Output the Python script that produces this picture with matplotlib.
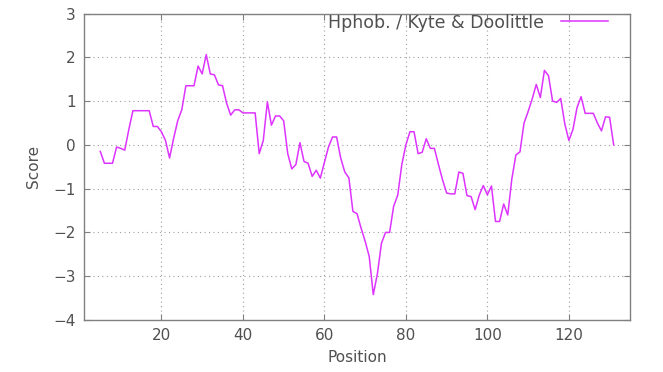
import matplotlib
matplotlib.use('Agg')
import matplotlib.pyplot as plt

# Data
positions = list(range(5, 132))
scores = [
    -0.15, -0.42, -0.42, -0.42, -0.05, -0.08, -0.12, 0.35, 0.78, 0.78,   # 5-14
    0.78, 0.78, 0.78, 0.42, 0.42, 0.30, 0.10, -0.30, 0.15, 0.55,        # 15-24
    0.80, 1.35, 1.35, 1.35, 1.80, 1.62, 2.06, 1.62, 1.60, 1.37,         # 25-34
    1.35, 0.95, 0.68, 0.80, 0.80, 0.73, 0.73, 0.73, 0.73, -0.20,        # 35-44
    0.10, 0.98, 0.45, 0.66, 0.66, 0.55, -0.20, -0.55, -0.45, 0.05,      # 45-54
    -0.38, -0.42, -0.72, -0.58, -0.76, -0.40, -0.05, 0.18, 0.18, -0.30,  # 55-64
    -0.62, -0.75, -1.52, -1.57, -1.90, -2.20, -2.55, -3.42, -2.95, -2.25,  # 65-74
    -2.00, -2.00, -1.40, -1.15, -0.45, 0.00, 0.30, 0.30, -0.20, -0.17,  # 75-84
    0.14, -0.08, -0.08, -0.45, -0.80, -1.10, -1.12, -1.12, -0.62, -0.65,  # 85-94
    -1.16, -1.18, -1.48, -1.15, -0.93, -1.14, -0.94, -1.75, -1.75, -1.35,  # 95-104
    -1.60, -0.78, -0.23, -0.16, 0.50, 0.76, 1.05, 1.38, 1.08, 1.70,     # 105-114
    1.58, 1.00, 0.97, 1.06, 0.48, 0.10, 0.35, 0.85, 1.10, 0.72,         # 115-124
    0.72, 0.72, 0.50, 0.32, 0.64, 0.63, 0.00,                           # 125-131
]
x_ticks = [20, 40, 60, 80, 100, 120]
y_ticks = [-4, -3, -2, -1, 0, 1, 2, 3]

text_color = '#505050'
frame_color = '#808080'

fig = plt.figure(figsize=(6.63, 3.72), dpi=100)
ax = fig.add_axes([0.1267, 0.1398, 0.8235, 0.8239])

ax.plot(positions, scores, color='#dd33ff', linewidth=1.1,
        label='Hphob. / Kyte & Doolittle')

ax.set_xlim(1, 135)
ax.set_ylim(-4, 3)
ax.set_xticks(x_ticks)
ax.set_yticks(y_ticks)

ax.grid(True, color='#a0a0a0', linestyle=(0, (1, 3)), linewidth=0.8)
for side in ax.spines.values():
    side.set_color(frame_color)
    side.set_linewidth(1.0)

ax.tick_params(direction='in', length=4, width=0.8, color=frame_color,
               top=True, right=True, labelsize=11, labelcolor=text_color, pad=6)

ax.set_xlabel('Position', fontsize=11, color=text_color, labelpad=5)
ax.set_ylabel('Score', fontsize=11, color=text_color, labelpad=9)

ax.legend(loc='upper right', bbox_to_anchor=(0.96, 1.0), frameon=False,
          markerfirst=False, handlelength=2.7, handletextpad=1.0,
          fontsize=12.5, labelcolor=text_color, borderaxespad=0, borderpad=0)

fig.savefig('out.png', dpi=100)
